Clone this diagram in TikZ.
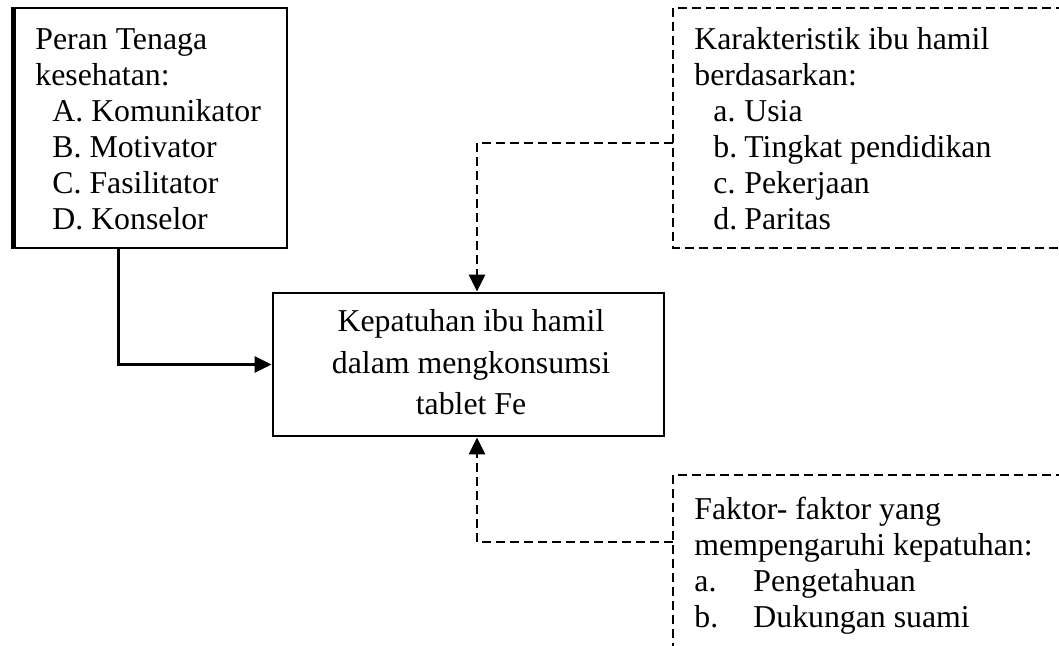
\documentclass[tikz,border=0pt]{standalone}
\usepackage{fontspec}
\setmainfont{Liberation Serif}
\usetikzlibrary{arrows.meta,calc}
\begin{document}
\begin{tikzpicture}[x=0.5pt,y=-0.5pt, line width=1.4pt,
 txt/.style={inner sep=0pt, anchor=base west, align=left, font=\fontsize{15.9}{18}\selectfont},
 solidbox/.style={draw, line width=1.4pt, inner sep=0pt},
 dashline/.style={dash pattern=on 4.5pt off 2.5pt, line width=1.4pt},
 tip/.style={-{Triangle[length=8.5pt,width=8pt]}}]
\useasboundingbox (0,0) rectangle (1059,646);

% left box
\node[solidbox, minimum width=137.5pt, minimum height=120pt] (peran) at (149.5,128) {};
\draw ($(peran.north west)+(3.5,0)$) -- ($(peran.south west)+(3.5,0)$);
\node[txt] (peranT) at (34,230) {Peran Tenaga\\kesehatan:\\\hspace*{8.5pt}A. Komunikator\\\hspace*{8.5pt}B. Motivator\\\hspace*{8.5pt}C. Fasilitator\\\hspace*{8.5pt}D. Konselor};

% center box
\node[solidbox, minimum width=195.5pt, minimum height=71.5pt] (kep) at (468.5,364.5) {};
\node[inner sep=0pt, anchor=base, align=center, font=\fontsize{15.9}{20.75}\selectfont] (kepT) at (471,415) {Kepatuhan ibu hamil\\dalam mengkonsumsi\\tablet Fe};

% top-right dashed box
\coordinate (kNW) at (673,8);
\coordinate (kSW) at (673,248);
\draw[dashline] (1065,8) -- (kNW) -- (kSW) -- (1065,248);
\node[txt] (karT) at (693,230) {Karakteristik ibu hamil\\berdasarkan:\\\hspace*{9.5pt}\makebox[15.5pt][l]{a.}Usia\\\hspace*{9.5pt}\makebox[15.5pt][l]{b.}Tingkat pendidikan\\\hspace*{9.5pt}\makebox[15.5pt][l]{c.}Pekerjaan\\\hspace*{9.5pt}\makebox[15.5pt][l]{d.}Paritas};

% bottom-right dashed box
\coordinate (fNW) at (673,475);
\draw[dashline] (1065,475) -- (fNW) -- (673,652);
\node[txt] (fakT) at (693,627) {Faktor- faktor yang\\mempengaruhi kepatuhan:\\\makebox[29.5pt][l]{a.}Pengetahuan\\\makebox[29.5pt][l]{b.}Dukungan suami};

% connectors
\draw[tip] ($(peran.south west)+(108,0)$) |- (kep.west);
\coordinate (kIn) at (673,143);
\draw[dashline, tip] (kIn) -| ($(kep.north)+(8.5,0)$);
\coordinate (fIn) at (673,542);
\draw[dashline, tip] (fIn) -| ($(kep.south)+(8.5,0)$);
\end{tikzpicture}
\end{document}
